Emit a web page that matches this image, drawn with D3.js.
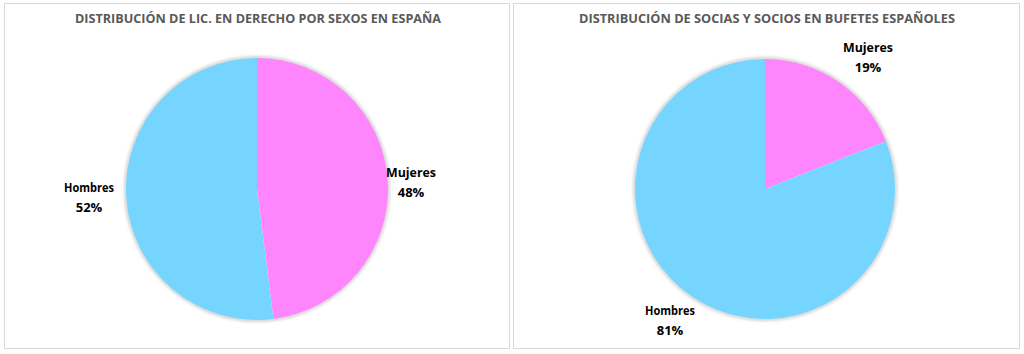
<!DOCTYPE html>
<html>
<head>
<meta charset="utf-8">
<script src="https://cdn.jsdelivr.net/npm/d3@7"></script>
<style>
  body { margin: 0; background: #fff; }
  svg text { font-family: "Open Sans", sans-serif; }
</style>
</head>
<body>
<div id="chart"></div>
<script>
// data
const titles = [
    'DISTRIBUCIÓN DE LIC. EN DERECHO POR SEXOS EN ESPAÑA',
    'DISTRIBUCIÓN DE SOCIAS Y SOCIOS EN BUFETES ESPAÑOLES'
];
const categories = ['Mujeres', 'Hombres'];
const licValues = [48, 52];
const sociosValues = [19, 81];

const colors = { Mujeres: '#ff85fd', Hombres: '#76d5ff' };

const width = 1024, height = 354;

const svg = d3.select('#chart').append('svg')
    .attr('width', width)
    .attr('height', height);

// soft edge around the pies
const defs = svg.append('defs');
defs.append('filter')
    .attr('id', 'shadow')
    .attr('x', '-10%').attr('y', '-10%')
    .attr('width', '120%').attr('height', '120%')
    .append('feGaussianBlur')
    .attr('stdDeviation', 1.6);

const panels = [
    { x: 4, w: 505, title: titles[0], titleX: 258, titleLen: 366, values: licValues, cx: 257, cy: 189, r: 131,
      labels: { Mujeres: [411, 177], Hombres: [89, 192] } },
    { x: 513, w: 506, title: titles[1], titleX: 767, titleLen: 376, values: sociosValues, cx: 765, cy: 189, r: 130,
      labels: { Mujeres: [868, 52], Hombres: [670, 315] } }
];

const pie = d3.pie().sort(null).value(d => d.value);

panels.forEach(p => {
    const g = svg.append('g');

    g.append('rect')
        .attr('x', p.x + 0.5).attr('y', 3.5)
        .attr('width', p.w).attr('height', 345)
        .attr('fill', '#fff')
        .attr('stroke', '#d9d9d9');

    g.append('text')
        .attr('x', p.titleX).attr('y', 23)
        .attr('text-anchor', 'middle')
        .attr('font-size', 12.5)
        .attr('font-weight', 700)
        .attr('fill', '#595959')
        .attr('textLength', p.titleLen)
        .attr('lengthAdjust', 'spacingAndGlyphs')
        .text(p.title);

    const data = categories.map((c, i) => ({ name: c, value: p.values[i] }));
    const arcs = pie(data);
    const arc = d3.arc().innerRadius(0).outerRadius(p.r);

    const pieG = g.append('g').attr('transform', `translate(${p.cx},${p.cy})`);

    pieG.append('circle')
        .attr('r', p.r + 0.5)
        .attr('fill', 'none')
        .attr('stroke', '#c8c8c8')
        .attr('stroke-width', 2.5)
        .attr('filter', 'url(#shadow)');

    pieG.selectAll('path')
        .data(arcs)
        .join('path')
        .attr('d', arc)
        .attr('fill', d => colors[d.data.name]);

    arcs.forEach(a => {
        const [lx, ly] = p.labels[a.data.name];
        const t = g.append('text')
            .attr('x', lx).attr('y', ly)
            .attr('text-anchor', 'middle')
            .attr('font-size', 13)
            .attr('font-weight', 700)
            .attr('fill', '#000');
        t.append('tspan').attr('x', lx).attr('textLength', 50).attr('lengthAdjust', 'spacingAndGlyphs')
            .text(a.data.name);
        t.append('tspan').attr('x', lx).attr('dy', 20).text(a.data.value + '%');
    });
});
</script>
</body>
</html>
